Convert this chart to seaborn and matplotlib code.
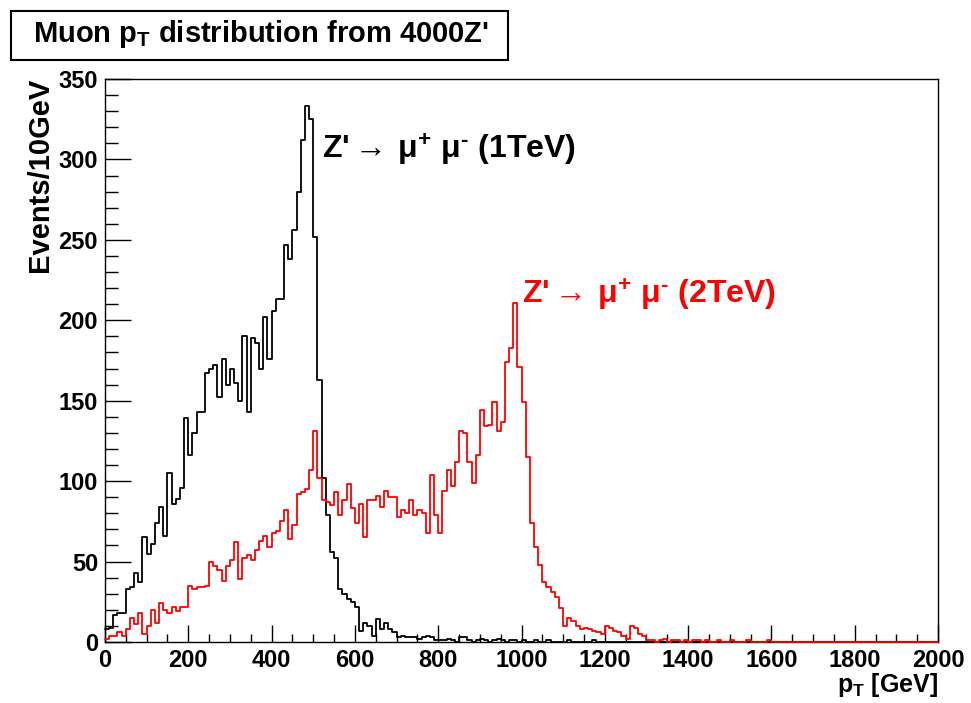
import numpy as np
import pandas as pd
import matplotlib
matplotlib.use("Agg")
import matplotlib.pyplot as plt
import seaborn as sns
from matplotlib.patches import Rectangle
from matplotlib.ticker import MultipleLocator
from matplotlib.colors import to_hex

# 10 GeV bins from 0 to 2000 GeV
bin_width = 10
pt_range = (0, 2000)

# Events per 10 GeV, Z' -> mu+ mu- (1 TeV)
counts_1tev = [
    8, 9, 17, 18, 18, 33, 34, 43, 37, 65,
    55, 61, 74, 84, 66, 105, 86, 89, 96, 139,
    116, 130, 143, 143, 167, 170, 172, 152, 176, 160,
    170, 161, 150, 190, 143, 189, 186, 170, 202, 176,
    206, 213, 213, 247, 238, 256, 280, 312, 333, 325,
    252, 163, 102, 79, 56, 52, 33, 30, 27, 25,
    22, 7, 12, 10, 4, 14, 8, 12, 8, 6,
    3, 4, 3, 3, 3, 2, 3, 4, 3, 1,
    1, 1, 2, 1, 0, 3, 3, 1, 0, 1,
    2, 1, 0, 1, 2, 1, 0, 1, 1, 0,
    1, 0, 0, 1, 0, 0, 1, 0, 0, 0,
    0, 1, 0, 0, 0, 0, 0, 1, 0, 0,
]

# Events per 10 GeV, Z' -> mu+ mu- (2 TeV)
counts_2tev = [
    2, 4, 4, 6, 4, 8, 15, 11, 18, 5,
    10, 20, 12, 24, 20, 18, 22, 19, 22, 22,
    35, 33, 34, 34, 35, 50, 47, 45, 38, 47,
    51, 62, 39, 52, 54, 51, 57, 63, 66, 59,
    68, 69, 75, 82, 64, 73, 92, 93, 95, 107,
    131, 102, 88, 87, 85, 93, 79, 88, 98, 83,
    74, 86, 65, 88, 88, 91, 84, 94, 90, 90,
    78, 82, 80, 88, 79, 82, 80, 68, 104, 79,
    68, 94, 107, 97, 112, 131, 130, 112, 99, 116,
    144, 134, 135, 149, 131, 137, 174, 183, 211, 171,
    149, 115, 74, 59, 48, 37, 34, 31, 28, 21,
    10, 15, 13, 10, 8, 9, 8, 7, 6, 5,
    10, 9, 7, 6, 4, 2, 10, 9, 5, 4,
    1, 1, 0, 1, 2, 0, 1, 1, 0, 1,
    0, 1, 1, 0, 1, 0, 0, 1, 0, 0,
    1, 0, 0, 0, 1, 0, 0, 0, 0, 1,
]

sample_names = ["1TeV", "2TeV"]
sample_colors = {"1TeV": "#000000", "2TeV": "#ff0000"}

n_bins = (pt_range[1] - pt_range[0]) // bin_width
bin_edges = [pt_range[0] + i * bin_width for i in range(n_bins + 1)]
c1 = np.zeros(n_bins)
c1[:len(counts_1tev)] = counts_1tev
c2 = np.zeros(n_bins)
c2[:len(counts_2tev)] = counts_2tev
centers = np.arange(n_bins) * bin_width + pt_range[0] + bin_width / 2

df = pd.DataFrame({
    "pt": np.concatenate([centers, centers]),
    "events": np.concatenate([c1, c2]),
    "sample": [sample_names[0]] * n_bins + [sample_names[1]] * n_bins,
})

sns.set_theme(style="white")
plt.rcParams["font.family"] = ["Liberation Sans", "DejaVu Sans"]
plt.rcParams["font.weight"] = "bold"
plt.rcParams["text.color"] = "black"
plt.rcParams["axes.labelcolor"] = "black"
plt.rcParams["mathtext.fontset"] = "custom"
plt.rcParams["mathtext.rm"] = "Liberation Sans"
plt.rcParams["mathtext.bf"] = "Liberation Sans:bold"
plt.rcParams["mathtext.it"] = "Liberation Sans:italic"

W, H = 971, 703
fig = plt.figure(figsize=(W / 100, H / 100), dpi=100)
fig.patch.set_facecolor("white")
ax = fig.add_axes([105 / W, 1 - 642 / H, (938 - 105) / W, (642 - 79) / H])

sns.histplot(
    data=df, x="pt", weights="events", hue="sample", bins=bin_edges,
    element="step", fill=False, palette=sample_colors, legend=False,
    linewidth=1.3, ax=ax,
)
# histograms are drawn over the frame, the 2 TeV one on top
for line in ax.lines:
    line.set_clip_on(False)
    line.set_zorder(4 if to_hex(line.get_color()) == "#ff0000" else 3)

ax.set_xlim(*pt_range)
ax.set_ylim(0, 350)
ax.set_xlabel("")
ax.set_ylabel("")
ax.xaxis.set_major_locator(MultipleLocator(200))
ax.xaxis.set_minor_locator(MultipleLocator(50))
ax.yaxis.set_major_locator(MultipleLocator(50))
ax.yaxis.set_minor_locator(MultipleLocator(10))
ax.tick_params(which="both", direction="in", top=False, right=False,
               color="black", width=1.0, labelsize=17, labelcolor="black")
ax.tick_params(axis="y", which="major", length=19, pad=5, left=True)
ax.tick_params(axis="y", which="minor", length=9, left=True)
ax.tick_params(axis="x", which="major", length=12, pad=5, bottom=True)
ax.tick_params(axis="x", which="minor", length=6, bottom=True)
for lab in ax.get_xticklabels() + ax.get_yticklabels():
    lab.set_fontweight("bold")
for sp in ax.spines.values():
    sp.set_color("black")
    sp.set_linewidth(1.0)
ax.grid(False)

# Axis titles
fig.text(40 / W, 1 - 78 / H, "Events/10GeV", rotation=90, ha="center", va="top",
         fontsize=21, fontweight="bold")
fig.text(938 / W, 1 - 692 / H, r"$\mathbf{p_{T}}$ [GeV]", ha="right", va="baseline",
         fontsize=18, fontweight="bold")

# Sample labels
label_tail = (r"$\rightarrow\,\mathrm{\mu}^{\mathbf{+}}\ \mathrm{\mu}^{\mathbf{"
              + "\u2010" + r"}}$ ")
ax.text((322 - 105) / 833, (642 - 150) / 563, "Z'" + label_tail + "(1TeV)",
        transform=ax.transAxes, ha="left", va="center", fontsize=23,
        fontweight="bold", color="black")
ax.text((522 - 105) / 833, (642 - 295) / 563, "Z'" + label_tail + "(2TeV)",
        transform=ax.transAxes, ha="left", va="center", fontsize=23,
        fontweight="bold", color="#ff0000")

# Boxed title
fig.patches.append(Rectangle((11 / W, 1 - 60 / H), (508 - 11) / W, 49 / H,
                             transform=fig.transFigure, fill=True, facecolor="white",
                             edgecolor="black", linewidth=1.5))
fig.text(261 / W, 1 - 42 / H, r"Muon $\mathbf{p_{T}}$ distribution from 4000Z'",
         ha="center", va="baseline", fontsize=21, fontweight="bold")

fig.savefig("out.png", dpi=100, facecolor="white")
